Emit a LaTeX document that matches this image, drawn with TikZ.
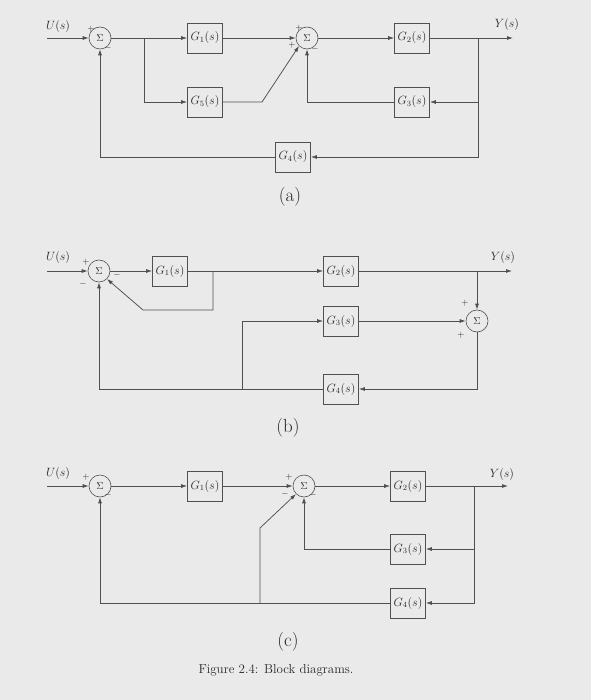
\documentclass[tikz,border=0pt]{standalone}
\usetikzlibrary{arrows.meta}
\definecolor{bg}{RGB}{234,234,234}
\definecolor{ln}{RGB}{80,80,80}
\definecolor{tx}{RGB}{40,40,40}
\tikzset{
  every node/.style={text=tx},
  block/.style={draw=ln, line width=0.7pt, minimum width=35pt, minimum height=30pt, inner sep=1pt, font=\fontsize{12}{13}\selectfont},
  sumnode/.style={circle, draw=ln, line width=0.6pt, minimum size=22pt, inner sep=0pt, font=\fontsize{10}{12}\selectfont},
  wire/.style={draw=ln, line width=0.75pt},
  arr/.style={wire, -{Latex[length=6pt,width=4pt]}},
  sgn/.style={font=\fontsize{9}{10}\selectfont, inner sep=0pt},
  lbl/.style={font=\fontsize{11.5}{13}\selectfont, inner sep=0pt},
  sub/.style={font=\fontsize{19}{22}\selectfont, inner sep=0pt}
}
\begin{document}
\begin{tikzpicture}[x=1pt,y=-1pt]
\fill[bg] (0,0) rectangle (591,700);
\useasboundingbox (0,0) rectangle (591,700);

% ---------------- (a)
\node[sumnode] (s1a) at (100,38) {$\Sigma$};
\node[block] (G1a) at (205,38) {$G_1(s)$};
\node[sumnode] (s2a) at (307,38) {$\Sigma$};
\node[block] (G2a) at (412,38) {$G_2(s)$};
\node[block] (G5a) at (205,102) {$G_5(s)$};
\node[block] (G3a) at (412,102) {$G_3(s)$};
\node[block] (G4a) at (293,157) {$G_4(s)$};
\coordinate (ina) at (47,38);
\coordinate (outa) at (513,38);
\coordinate (b1a) at (144,38);
\coordinate (b2a) at (478,38);
\coordinate (ka) at (262,102);
\node[lbl] (Ua) at (58,27) {$U(s)$};
\node[lbl] (Ya) at (507,25) {$Y(s)$};
\draw[arr] (ina) -- (s1a);
\draw[arr] (s1a) -- (G1a);
\draw[arr] (b1a) |- (G5a);
\draw[arr] (G1a) -- (s2a);
\draw[arr] (G5a) -- (ka) -- (s2a.south west);
\draw[arr] (s2a) -- (G2a);
\draw[arr] (G2a) -- (outa);
\draw[arr] (b2a) |- (G3a);
\draw[arr] (b2a) |- (G4a);
\draw[arr] (G3a) -| (s2a);
\draw[arr] (G4a) -| (s1a);
\node[sgn] at (91,29) {$+$};
\node[sgn] at (108,48) {$-$};
\node[sgn] at (299,28) {$+$};
\node[sgn] at (292,45) {$+$};
\node[sgn] at (315,49) {$-$};
\node[sub] (la) at (290,197) {(a)};

% ---------------- (b)
\node[sumnode] (s1b) at (99,271) {$\Sigma$};
\node[block] (G1b) at (170,271) {$G_1(s)$};
\node[block] (G2b) at (341,271) {$G_2(s)$};
\node[block] (G3b) at (341,321) {$G_3(s)$};
\node[block] (G4b) at (341,389) {$G_4(s)$};
\node[sumnode] (s3b) at (477,321) {$\Sigma$};
\coordinate (inb) at (47,271);
\coordinate (outb) at (512,271);
\coordinate (b1b) at (213,271);
\coordinate (c1b) at (213,310);
\coordinate (c2b) at (143,310);
\coordinate (b2b) at (477,271);
\coordinate (b3b) at (242,389);
\node[lbl] (Ub) at (58,257) {$U(s)$};
\node[lbl] (Yb) at (503,258) {$Y(s)$};
\draw[arr] (inb) -- (s1b);
\draw[arr] (s1b) -- (G1b);
\draw[arr] (G1b) -- (G2b);
\draw[arr] (b1b) -- (c1b) -- (c2b) -- (s1b.south east);
\draw[arr] (G2b) -- (outb);
\draw[arr] (b2b) -- (s3b);
\draw[arr] (G3b) -- (s3b);
\draw[arr] (s3b) |- (G4b);
\draw[arr] (G4b) -| (s1b);
\draw[arr] (b3b) |- (G3b);
\node[sgn] at (86,262) {$+$};
\node[sgn] at (83,284) {$-$};
\node[sgn] at (117,275) {$-$};
\node[sgn] at (465,303) {$+$};
\node[sgn] at (461,335) {$+$};
\node[sub] (lb) at (288,428) {(b)};

% ---------------- (c)
\node[sumnode] (s1c) at (100,486) {$\Sigma$};
\node[block] (G1c) at (205,486) {$G_1(s)$};
\node[sumnode] (s2c) at (304,486) {$\Sigma$};
\node[block] (G2c) at (408,486) {$G_2(s)$};
\node[block] (G3c) at (408,549) {$G_3(s)$};
\node[block] (G4c) at (408,603) {$G_4(s)$};
\coordinate (inc) at (47,486);
\coordinate (outc) at (508,486);
\coordinate (b1c) at (474,486);
\coordinate (b2c) at (260,603);
\coordinate (kc) at (260,528);
\node[lbl] (Uc) at (58,473) {$U(s)$};
\node[lbl] (Yc) at (502,474) {$Y(s)$};
\draw[arr] (inc) -- (s1c);
\draw[arr] (s1c) -- (G1c);
\draw[arr] (G1c) -- (s2c);
\draw[arr] (s2c) -- (G2c);
\draw[arr] (G2c) -- (outc);
\draw[arr] (b1c) |- (G3c);
\draw[arr] (b1c) |- (G4c);
\draw[arr] (G3c) -| (s2c);
\draw[arr] (G4c) -| (s1c);
\draw[arr] (b2c) -- (kc) -- (s2c.south west);
\node[sgn] at (86,477) {$+$};
\node[sgn] at (108,495) {$-$};
\node[sgn] at (289,477) {$+$};
\node[sgn] at (285,494) {$-$};
\node[sgn] at (313,495) {$-$};
\node[sub] (lc) at (288,642) {(c)};
\node[font=\fontsize{13}{15}\selectfont, inner sep=0pt] (cap) at (276,670) {Figure 2.4: Block diagrams.};
\end{tikzpicture}
\end{document}
